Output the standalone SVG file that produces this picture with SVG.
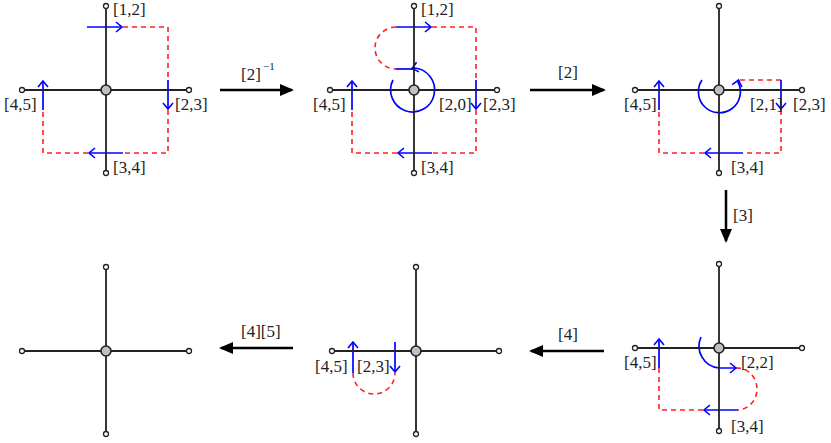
<svg xmlns="http://www.w3.org/2000/svg" width="831" height="443" viewBox="0 0 831 443" font-family="'Liberation Serif', 'DejaVu Serif', serif" font-size="17">
<style>
.arm{stroke:#222;stroke-width:1.8;fill:none}
.end{fill:#fff;stroke:#222;stroke-width:1.3}
.ctr{fill:#c0c0c0;stroke:#222;stroke-width:1.6}
.b{stroke:#0000ff;stroke-width:1.7;fill:none}
.ba{stroke:#0000ff;stroke-width:1.7;fill:none;marker-end:url(#chev)}
.r{stroke:#ff2020;stroke-width:1.6;fill:none;stroke-dasharray:5,4}
.m{stroke:#000;stroke-width:2.5;fill:none;marker-end:url(#tri)}
.t{font-family:'Liberation Serif','DejaVu Serif',serif;font-size:17px;fill:#222}
</style>
<defs>
<marker id="chev" viewBox="-8 -6 10 12" markerWidth="10" markerHeight="12" refX="0" refY="0" orient="auto" markerUnits="userSpaceOnUse">
<path d="M-6,-5 L0,0 L-6,5" stroke="#0000ff" stroke-width="1.6" fill="none"/>
</marker>
<marker id="tri" viewBox="0 -6 14 12" markerWidth="14" markerHeight="12" refX="12" refY="0" orient="auto" markerUnits="userSpaceOnUse">
<path d="M0,-6 L14,0 L0,6 Z" fill="#000"/>
</marker>
<g id="cross">
<path class="arm" d="M0,-84 V83 M-84,0 H83"/>
<circle class="end" cx="0" cy="-84" r="2.5"/><circle class="end" cx="0" cy="83" r="2.5"/>
<circle class="end" cx="-84" cy="0" r="2.5"/><circle class="end" cx="83" cy="0" r="2.5"/>
<circle class="ctr" cx="0" cy="0" r="5"/>
</g>
</defs>
<g id="p1" class="t">
<path class="r" d="M123,27 H168 V80 M168,110 V153 H123 M88,153 H43 V110"/>
<path class="ba" d="M87,27 H122"/><path class="ba" d="M168,80 V109"/><path class="ba" d="M123,153 H89"/><path class="ba" d="M43,110 V81"/>
<use href="#cross" x="106" y="90"/>
<text x="113" y="15">[1,2]</text><text x="4" y="110">[4,5]</text><text x="175" y="110">[2,3]</text><text x="113" y="173">[3,4]</text>
</g>
<g id="p2" class="t">
<path class="r" d="M432,27 H476 V80 M476,110 V153 H432 M397,153 H352 V110 M396,27 A21,21 0 0 0 396,69"/>
<path class="ba" d="M396,27 H431"/><path class="ba" d="M476,80 V109"/><path class="ba" d="M432,153 H398"/><path class="ba" d="M352,110 V81"/>
<path class="b" d="M396,69 H414"/>
<path class="ba" d="M393,80 A22,22 0 1 0 414,68 L412,68.5"/>
<use href="#cross" x="414" y="90"/>
<text x="421" y="15">[1,2]</text><text x="313" y="110">[4,5]</text><text x="439" y="110">[2,0]</text><text x="483" y="110">[2,3]</text><text x="421" y="173">[3,4]</text>
</g>
<g id="p3" class="t">
<path class="r" d="M740,80 H781 M781,110 V153 H743 M704,153 H659 V110"/>
<path class="ba" d="M781,80 V109"/><path class="ba" d="M743,153 H705"/><path class="ba" d="M659,110 V81"/>
<path class="ba" d="M702,80 A21,21 0 1 0 738,82 L738.5,80"/>
<use href="#cross" x="719" y="90"/>
<text x="624" y="110">[4,5]</text><text x="750" y="110">[2,1]</text><text x="793" y="110">[2,3]</text><text x="731" y="173">[3,4]</text>
</g>
<g id="p4" class="t">
<path class="r" d="M736,368 A20,21 0 0 1 738,410 M703,410 H659 V368"/>
<path class="ba" d="M659,368 V339"/><path class="ba" d="M738,410 H704"/>
<path class="ba" d="M701,337 A22,22 0 0 0 719,368 H736"/>
<use href="#cross" x="719" y="348"/>
<text x="624" y="368">[4,5]</text><text x="741" y="368">[2,2]</text><text x="731" y="432">[3,4]</text>
</g>
<g id="p5" class="t">
<path class="r" d="M353,373 A21,21 0 0 0 395,373"/>
<path class="ba" d="M353,373 V342"/><path class="ba" d="M395,342 V372"/>
<use href="#cross" x="416" y="351"/>
<text x="315" y="372">[4,5]</text><text x="357" y="372">[2,3]</text>
</g>
<g id="p6">
<use href="#cross" x="106" y="351"/>
</g>
<g id="connectors" class="t">
<path class="m" d="M220,90 H292"/><text x="241" y="80">[2]</text><text x="263" y="70" font-size="11">−1</text>
<path class="m" d="M530,90 H604"/><text x="558" y="78">[2]</text>
<path class="m" d="M726,190 V241"/><text x="733" y="221">[3]</text>
<path class="m" d="M604,351 H531"/><text x="558" y="340">[4]</text>
<path class="m" d="M293,348 H221"/><text x="241" y="337">[4][5]</text>
</g>
</svg>
